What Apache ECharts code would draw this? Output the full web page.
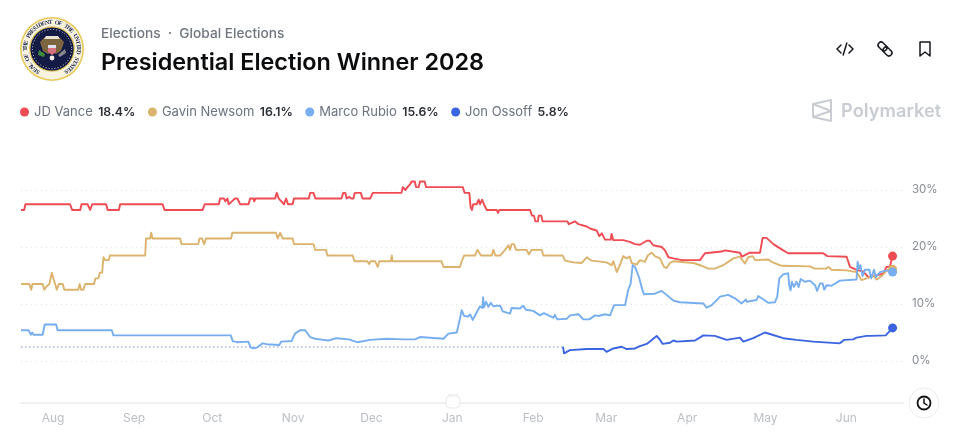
<!DOCTYPE html>
<html>
<head>
<meta charset="utf-8">
<style>html,body{margin:0;padding:0;background:#fff}#chart{width:965px;height:438px}</style>
<script src="https://cdn.jsdelivr.net/npm/echarts@6/dist/echarts.min.js"></script>
</head>
<body>
<div id="chart"></div>
<script>
// Time points are [days since 1 Aug 2025, chance in percent].
const candidateNames = ['JD Vance', 'Gavin Newsom', 'Marco Rubio', 'Jon Ossoff'];
const currentOdds = ['18.4%', '16.1%', '15.6%', '5.8%'];
const percentTicks = [0, 10, 20, 30];
const monthLabels = ['Aug', 'Sep', 'Oct', 'Nov', 'Dec', 'Jan', 'Feb', 'Mar', 'Apr', 'May', 'Jun'];
const monthStartDays = [0, 31, 61, 92, 122, 153, 184, 212, 243, 273, 304];

const vancePoints = [[-12.3,26.5],[-11.1,26.5],[-10.6,27.5],[6.5,27.5],[7.3,26.5],[10.4,26.5],[10.9,27.5],[13.2,27.5],[14.2,26.5],[15,27.5],[20.3,27.5],[20.9,26.5],[25.2,26.5],[25.7,27.5],[42,27.5],[42.7,26.5],[57.3,26.5],[58.1,27.5],[63.5,27.5],[64,28.5],[65.5,28.5],[66,28],[66.8,28.5],[67.3,27.5],[68.5,28],[69.7,28.5],[70.6,28.5],[71.7,27.5],[74.9,27.5],[75.5,28.5],[76.8,28.5],[77.1,28],[77.5,28.5],[85.1,28.5],[85.7,29.5],[86.5,28.5],[87.2,28.5],[88.5,27.5],[89.3,28.5],[90,27.5],[91.8,27.5],[92.3,28.5],[98,28.5],[98.5,29.5],[99.8,29.5],[100.5,28.5],[110.5,28.5],[111.2,29.5],[112,29.5],[112.5,28.5],[113.5,28.8],[114.3,28.5],[115.1,28.5],[115.6,29.5],[117.9,29.5],[118.6,28.5],[119.9,28.5],[120.4,28.8],[121.5,28.5],[122.5,29.5],[133.5,29.5],[134,30.5],[135,30],[135.8,30.5],[136.8,31],[137.4,31.5],[138.6,31.5],[139.1,30.5],[140.1,30.5],[140.6,31.5],[142.4,31.5],[142.9,30.5],[157,30.5],[157.7,29.5],[159.5,29.5],[160,27],[160.5,26.5],[161,27.5],[162.3,27.5],[163.1,28.3],[163.6,27.5],[164.4,28.3],[165.1,27.5],[166.2,26.5],[170,26.5],[170.5,26],[171,26.5],[182.8,26.5],[183.5,25.5],[184.3,25.5],[184.8,24.5],[185.8,24.5],[186.1,25.5],[187.1,25.5],[187.6,24.5],[197.1,24.5],[197.6,24],[200,24.5],[201.3,24],[204.5,23.6],[206,23.2],[208.3,22.9],[209.3,21.9],[210.3,22.4],[211.5,21.3],[213.7,21.3],[214,22.3],[214.7,21.2],[218.5,21.2],[221,20.9],[223,20.5],[224.9,20.4],[227.5,21.1],[228.7,21.1],[230,20.3],[233.2,20],[234.5,19.4],[235.8,18.2],[237.7,18],[240.9,17.7],[247.9,17.7],[249.8,18.9],[256.2,19.2],[257.5,19.4],[263.2,19],[264,18.3],[267,19],[270.9,19],[271.9,21.6],[273.4,21.6],[276,20.5],[279.8,19.4],[281.7,18.9],[295.1,18.9],[296.7,18.4],[304.1,18.3],[305.4,16.5],[307.9,16],[310.5,15.7],[312.4,14.7],[314.3,14.9],[318.1,15.3],[319.4,16.5],[320.7,16.6],[321.7,18.4]];

const newsomPoints = [[-12.3,13.5],[-9.1,13.5],[-8.4,12.5],[-7.9,13.5],[-4,13.5],[-3.4,12.5],[-2.7,13],[-1.4,13.5],[-0.5,15.5],[0.1,14.5],[0.8,13.5],[1.4,12.5],[2.2,13.5],[3.7,13.5],[4.3,12.5],[9.6,12.5],[10.2,13.5],[10.7,12.5],[11.6,12.5],[12.3,13.5],[15.7,13.5],[16.2,14.5],[17.4,14.5],[17.9,15.5],[18.8,15.5],[19.3,18.2],[20,17.7],[21.3,17.7],[21.8,18.5],[35.3,18.5],[35.6,21.5],[37.2,21.5],[37.6,22.5],[38.1,21.5],[48.7,21.5],[49.2,20.5],[55.6,20.5],[56.1,21.5],[57.1,21.5],[57.9,20.5],[58.6,21.5],[68.2,21.5],[68.7,22.5],[85.4,22.5],[86.1,21.5],[87,22.5],[88,21.5],[91.8,21.5],[92.3,20.5],[99.8,20.5],[100.4,19.5],[104.6,19.5],[105.1,18.5],[114.8,18.5],[115.5,17.5],[120.4,17.5],[121.1,17],[121.7,17.5],[123.4,17.5],[124.4,16.5],[125,17.5],[129.4,17.5],[129.8,18.5],[130.1,17.5],[148.9,17.5],[149.6,16.5],[155.9,16.5],[156.6,17.5],[157.5,18.5],[161.7,18.5],[162.6,19.5],[163.3,19.5],[164,18.5],[168.1,18.5],[168.7,19.5],[169.5,18.5],[171.3,18.5],[173.2,19.5],[174.5,20.3],[175.1,19.5],[175.7,20.5],[176.6,20.5],[177.4,19.5],[181.5,19.5],[182.3,18.7],[183.3,19.5],[187.2,19.5],[187.9,18.5],[195.3,18.5],[196.2,17.6],[199.4,17.3],[202.6,17.2],[204.5,18.2],[206.4,17.6],[212.1,17.3],[214,16.8],[214.7,17.5],[216,15.6],[217,16.6],[218.5,18.4],[219.8,18],[221,18.3],[221.7,17.2],[223.6,16.9],[224.9,17.7],[226.8,17.4],[228,18.6],[229.4,19],[230.6,18.4],[232.6,18],[234.1,16.5],[235.1,16.3],[236.4,17.2],[237.7,17.5],[245.3,17.2],[247.9,16.8],[251.1,16.2],[253.6,16.2],[256.8,16.8],[260.7,18],[263.2,18.3],[265.1,17.1],[266.4,18.2],[268.1,18.4],[269,17.7],[274.1,17.8],[275.3,17.4],[279.2,16.7],[290,16.6],[291.9,16.2],[296.2,16.2],[297.2,16.5],[298.3,16],[304.1,15.9],[307.9,15.6],[309.8,14.2],[313,14.7],[314.3,15],[315.6,14.3],[317.5,14.9],[319.4,15.8],[320.7,16.2],[321.7,16.1]];

const rubioPoints = [[-12.3,5.4],[-9.4,5.4],[-8.5,4.6],[-8,5],[-7.5,4.6],[-4,4.6],[-3.2,6.4],[1.2,6.4],[1.7,5.4],[22.5,5.4],[23.1,4.5],[68.1,4.5],[68.8,3.5],[70.4,3.3],[74.8,3.4],[75.7,2.4],[76.8,2.2],[78.3,2.4],[80.3,3.1],[81.9,2.95],[86.7,2.8],[87.4,3.4],[91.4,3.5],[92.7,4.8],[94.6,5.4],[95.3,5.1],[96.6,5.4],[98.5,4.2],[100.4,3.9],[102.3,3.8],[105.5,3.6],[108.7,4],[113.2,3.8],[116.6,3.3],[121.5,3.7],[127.8,3.9],[134.2,3.8],[138.7,3.8],[140.6,4.2],[149.6,3.9],[151.5,4.8],[154.7,5],[155.7,7],[156.6,8.9],[157.5,7.9],[159.1,7.8],[159.8,8.2],[160.8,7.2],[162.3,8.5],[163.6,9.6],[164.5,9.3],[164.8,11.2],[165.1,9.4],[165.9,10.4],[166.8,9.5],[167.7,10.2],[168.7,9.6],[170,9.7],[171.3,9.7],[172.3,8.7],[175.1,8.3],[175.7,9.3],[178.9,9.2],[180.2,9.7],[181.2,9],[184,8.8],[186.6,8],[188.1,8.4],[191.7,7.6],[192.3,8.1],[193.2,7.3],[196.8,7.4],[198.1,8],[201.3,8.2],[203.2,7.3],[205.5,7.3],[207.7,8],[209,7.9],[211.5,8.2],[213.4,8],[215,9.8],[219.2,9.8],[220.4,12.5],[221.3,13.5],[222.1,16.8],[223,16.5],[224.6,14.6],[225.5,13],[226.4,11.7],[230.6,11.8],[233.2,12.3],[235.1,11.6],[237.7,10.6],[240.2,10.3],[249.2,10.1],[250.4,9.35],[252.4,9.8],[255.6,11.3],[258.7,11.6],[261.3,11],[263.9,10.1],[265.5,10.8],[265.8,10.4],[269.6,10.7],[270.2,11.4],[272.8,10.6],[274.1,10.2],[276.6,10.3],[277.5,11.3],[278.3,14.5],[279.8,15.2],[281.7,15.4],[282.1,13.3],[282.6,12.4],[283.1,13.9],[283.9,13],[284.9,13.9],[285.7,13],[286.5,14.4],[288.1,13.9],[290,14.1],[292,13.3],[292.8,12.3],[293.9,13.6],[294.9,13.6],[295.5,12.5],[296.4,13.3],[298.3,13.2],[301.5,14.1],[307.9,14.3],[308.3,17.4],[308.9,16.2],[309.4,16.8],[310.2,14.9],[311.1,16],[312.8,16],[313.5,14.5],[314.6,16],[315.3,14.7],[316.9,15.6],[319.4,15.9],[321.7,15.6]];

const ossoffEarlyPoints = [[-12.3,2.45],[195.4,2.45]];
const ossoffPoints = [[195.4,2.5],[195.8,1.35],[198.1,1.9],[204.5,2.1],[210.9,2.1],[212.1,1.6],[214.7,2.2],[217.9,2.5],[219.8,2.1],[223,2.2],[224.9,2.6],[227.5,3],[229.4,3.7],[231.3,4.4],[232.6,3.7],[233.6,3],[236.4,3.2],[237.7,3.6],[239,3.4],[246,3.6],[249.2,4.5],[253.6,4.4],[258.1,3.7],[263.2,4.1],[264.5,3.4],[268.3,4],[272.8,5],[279.8,4],[284.9,3.7],[291.3,3.4],[301.5,3.1],[303.1,3.7],[306.6,3.8],[307.9,4.1],[311.7,4.4],[313.6,4.4],[319.1,4.5],[321.7,5.8]];

const lineColors = ['#ef4b52', '#dcb36c', '#76aeef', '#3b64e2'];

function tradeSeries(name, points, color) {
  const last = points[points.length - 1];
  return {
    name, type: 'line', data: points, showSymbol: false, symbol: 'none',
    clip: false, smooth: false, silent: true,
    lineStyle: { color, width: 1.9, join: 'round' }, itemStyle: { color },
    markPoint: {
      silent: true, symbol: 'circle', symbolSize: 9, label: { show: false },
      itemStyle: { color },
      data: [{ coord: [last[0], last[1]] }]
    }
  };
}

// Presidential seal: rings, lettering on the circle and a simple eagle.
const sealCx = 52, sealCy = 49;
function sealElements() {
  const els = [
    { type: 'circle', shape: { cx: sealCx, cy: sealCy, r: 32 }, style: { fill: '#e6c95a' } },
    { type: 'circle', shape: { cx: sealCx, cy: sealCy, r: 30.4 }, style: { fill: '#f8f3df' } },
    { type: 'circle', shape: { cx: sealCx, cy: sealCy, r: 22.8 }, style: { fill: '#d9bc5a' } },
    { type: 'circle', shape: { cx: sealCx, cy: sealCy, r: 21.6 }, style: { fill: '#141b45' } },
    { type: 'circle', shape: { cx: sealCx, cy: sealCy, r: 19.6 }, style: { fill: 'none', stroke: '#cfd2e0', lineWidth: 1, lineDash: [1, 2] } },
    { type: 'polygon', shape: { points: [[52,39],[44,38],[40,42],[43,51],[48,54],[52,52],[56,54],[61,51],[64,42],[60,38]] }, style: { fill: '#7d6540' } },
    { type: 'polygon', shape: { points: [[46,36],[58,36],[60,39],[44,39]] }, style: { fill: '#e9e5d4' } },
    { type: 'polygon', shape: { points: [[48,46],[56,46],[56,52],[52,55],[48,52]] }, style: { fill: '#d9727f' } },
    { type: 'rect', shape: { x: 48, y: 45, width: 8, height: 3 }, style: { fill: '#dfe3f0' } },
    { type: 'polygon', shape: { points: [[39,50],[45,54],[44,57],[38,55]] }, style: { fill: '#3f8a3c' } },
    { type: 'polygon', shape: { points: [[65,49],[58,55],[60,57],[66,53]] }, style: { fill: '#8a8a90' } },
    { type: 'circle', shape: { cx: 52, cy: 58, r: 2.4 }, style: { fill: '#f1ece2' } }
  ];
  const motto = 'SEAL OF THE PRESIDENT OF THE UNITED STATES';
  const startDeg = -148, endDeg = 148;
  for (let i = 0; i < motto.length; i++) {
    const t = (startDeg + (endDeg - startDeg) * i / (motto.length - 1)) * Math.PI / 180;
    els.push({
      type: 'text', x: sealCx + 26.6 * Math.sin(t), y: sealCy - 26.6 * Math.cos(t), rotation: -t,
      style: { text: motto[i], fill: '#26305c', font: '600 6px "Liberation Serif"', align: 'center', verticalAlign: 'middle' }
    });
  }
  return els;
}

const iconStroke = { fill: 'none', stroke: '#16181d', lineWidth: 1.5, lineCap: 'round', lineJoin: 'round' };
const headerIcons = [
  // embed
  { type: 'polyline', shape: { points: [[841,45],[837,49],[841,53]] }, style: iconStroke },
  { type: 'polyline', shape: { points: [[849,45],[853,49],[849,53]] }, style: iconStroke },
  { type: 'line', shape: { x1: 846.8, y1: 43, x2: 843.2, y2: 55 }, style: iconStroke },
  // link
  { type: 'rect', x: 882.5, y: 46.5, rotation: -Math.PI / 4, originX: 0, originY: 0, shape: { x: -5, y: -3, width: 10, height: 6, r: 3 }, style: iconStroke },
  { type: 'rect', x: 887.5, y: 51.5, rotation: -Math.PI / 4, originX: 0, originY: 0, shape: { x: -5, y: -3, width: 10, height: 6, r: 3 }, style: iconStroke },
  // bookmark
  { type: 'polygon', shape: { points: [[920,42],[930,42],[930,56],[925,52],[920,56]] }, style: iconStroke }
];

const brandColor = '#c9cdd3';
const brandStroke = { fill: 'none', stroke: brandColor, lineWidth: 2, lineJoin: 'round' };
const brandMark = [
  { type: 'polygon', shape: { points: [[813,104],[831,100],[831,121],[813,117]] }, style: brandStroke },
  { type: 'polyline', shape: { points: [[813,104],[831,111],[813,117]] }, style: brandStroke },
  { type: 'text', x: 841, y: 112, style: { text: 'Polymarket', fill: brandColor, font: '600 18.3px Inter', verticalAlign: 'middle' } }
];

const sliderParts = [
  { type: 'rect', z: 20, shape: { x: 446, y: 396, width: 14, height: 12, r: 4 }, style: { fill: '#fff', stroke: '#e9e9e9', lineWidth: 1 } },
  { type: 'rect', z: 20, shape: { x: 448, y: 394, width: 10, height: 2 }, style: { fill: '#f0f0f0' } },
  { type: 'circle', z: 20, shape: { cx: 924, cy: 403, r: 15 }, style: { fill: '#fff', stroke: '#ececec', lineWidth: 1 } },
  { type: 'circle', z: 21, shape: { cx: 924, cy: 403, r: 6.5 }, style: { fill: 'none', stroke: '#111', lineWidth: 1.8 } },
  { type: 'polyline', z: 21, shape: { points: [[924,399],[924,403],[927,405]] }, style: { fill: 'none', stroke: '#111', lineWidth: 1.5, lineCap: 'round' } }
];

const chart = echarts.init(document.getElementById('chart'), null, { renderer: 'canvas' });
chart.setOption({
  backgroundColor: '#fff',
  animation: false,
  textStyle: { fontFamily: 'Inter' },
  grid: { left: 21, right: 62, top: 190, bottom: 77 },
  legend: {
    left: 20, top: 105.5, padding: 0, itemWidth: 9, itemHeight: 9, itemGap: 12.5, selectedMode: false,
    icon: 'circle',
    data: candidateNames,
    formatter: name => `{n|${name}} {v|${currentOdds[candidateNames.indexOf(name)]}}`,
    textStyle: {
      rich: {
        n: { fontFamily: 'Inter', fontSize: 13, color: '#6b7280', padding: [0, 2, 0, 0] },
        v: { fontFamily: 'Inter', fontSize: 12.3, fontWeight: 600, color: '#2b2f36' }
      }
    }
  },
  xAxis: {
    type: 'value', min: -12.3, max: 325.7, offset: 42,
    axisLine: { show: true, onZero: false, lineStyle: { color: '#f1f1f1', width: 2 } },
    axisTick: { show: false }, splitLine: { show: false },
    axisLabel: {
      customValues: monthStartDays,
      formatter: v => monthLabels[monthStartDays.indexOf(v)],
      color: '#bcc0c6', fontSize: 12, fontFamily: 'Inter', margin: 9
    }
  },
  yAxis: {
    type: 'value', position: 'right', min: percentTicks[0], max: percentTicks[3], interval: 10,
    axisLine: { show: false }, axisTick: { show: false },
    splitLine: { show: true, lineStyle: { color: '#e4e4e4', width: 1, type: [1, 4] } },
    axisLabel: { formatter: '{value}%', color: '#868c94', fontSize: 11.5, fontFamily: 'Inter', margin: 9 }
  },
  series: [
    {
      name: 'Jon Ossoff (early)', type: 'line', data: ossoffEarlyPoints, symbol: 'none', silent: true,
      lineStyle: { color: '#a6b6df', width: 1.4, type: [1.5, 2.5] }
    },
    tradeSeries(candidateNames[0], vancePoints, lineColors[0]),
    tradeSeries(candidateNames[1], newsomPoints, lineColors[1]),
    tradeSeries(candidateNames[2], rubioPoints, lineColors[2]),
    tradeSeries(candidateNames[3], ossoffPoints, lineColors[3])
  ],
  graphic: [
    { type: 'group', silent: true, children: sealElements() },
    { type: 'text', x: 101, y: 33.5, silent: true, style: { text: 'Elections  ·  Global Elections', fill: '#6f7680', font: '500 13.7px Inter', verticalAlign: 'middle' } },
    { type: 'text', x: 101, y: 63, silent: true, style: { text: 'Presidential Election Winner 2028', fill: '#0b0c0e', font: '600 23.4px Inter', verticalAlign: 'middle' } },
    { type: 'group', silent: true, children: headerIcons },
    { type: 'group', silent: true, children: brandMark },
    { type: 'group', silent: true, children: sliderParts }
  ]
});
</script>
</body>
</html>
